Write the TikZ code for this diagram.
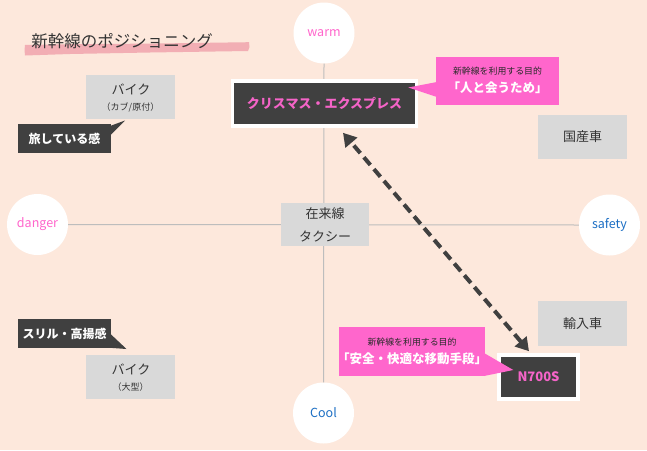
\documentclass[tikz,border=0pt]{standalone}
\usepackage{fontspec}
\setmainfont{Noto Sans CJK JP}
\usetikzlibrary{arrows.meta,calc}
\definecolor{bg}{HTML}{FDE8DC}
\definecolor{gbox}{HTML}{D9D9D9}
\definecolor{darkc}{HTML}{404040}
\definecolor{pinkc}{HTML}{FF66CC}
\definecolor{pinktxt}{HTML}{F564C8}
\definecolor{bluetxt}{HTML}{1C6FC4}
\definecolor{brush}{HTML}{F2AEB4}
\definecolor{axisc}{HTML}{BDBDBD}
\definecolor{txt}{HTML}{333333}
\definecolor{cotxt}{HTML}{2A2A2A}
\begin{document}
\begin{tikzpicture}[x=1pt,y=-1pt,
  graybox/.style={fill=gbox, inner sep=0pt, minimum width=89pt, minimum height=44pt, align=center, text=txt},
  bigtxt/.style={font=\fontsize{13}{15}\selectfont},
  smalltxt/.style={font=\fontsize{9}{11}\selectfont},
  darklbl/.style={fill=darkc, text=white, font=\bfseries\fontsize{12}{14}\selectfont, inner sep=0pt, minimum width=93pt, minimum height=29pt},
  hero/.style={fill=darkc, draw=white, line width=3.6pt, text=pinktxt, font=\bfseries\fontsize{13}{15}\selectfont, inner sep=0pt},
  circ/.style={circle, fill=white, minimum size=61pt, inner sep=0pt, font=\fontsize{12.5}{14}\selectfont},
  callout/.style={fill=pinkc, inner sep=0pt},
  cosmall/.style={text=cotxt, inner sep=0pt, font=\fontsize{8.9}{10}\selectfont},
  cobig/.style={text=white, inner sep=0pt, font=\bfseries\fontsize{12.5}{14}\selectfont},
  axisline/.style={draw=axisc, line width=1pt},
  dasharrow/.style={draw=darkc, line width=4pt, dash pattern=on 10pt off 5.5pt, {Triangle[length=13pt,width=15pt]}-{Triangle[length=13pt,width=15pt]}}
]
\fill[bg] (0,0) rectangle (647,450);
\useasboundingbox (0,0) rectangle (647,450);

% title
\fill[brush] (25,45) -- (70,44.2) -- (150,43.6) -- (249,42.2) -- (249.5,47) -- (248,51) -- (150,52.5) -- (70,54) -- (25,55.5) -- (24.5,50) -- cycle;
\node[text=txt, inner sep=0pt, font=\fontsize{16.5}{18}\selectfont] (title) at (122,41.5) {新幹線のポジショニング};

% axis circles
\node[circ, text=pinkc] (warm) at (324,33) {warm};
\node[circ, text=bluetxt] (cool) at (323.5,413) {Cool};
\node[circ, text=pinkc] (danger) at (37.5,224.5) {danger};
\node[circ, text=bluetxt] (safety) at (609.5,225) {safety};

% axes
\draw[axisline] (warm.south) -- (cool.north);
\draw[axisline] (danger.east) -- (safety.west);

% gray boxes
\node[graybox] (bike1) at (130.5,97) {};
\node[bigtxt, text=txt, inner sep=0pt] (bike1a) at (131,89) {バイク};
\node[smalltxt, text=txt, inner sep=0pt] (bike1b) at (130.5,107.5) {（カブ/原付）};

\node[graybox] (kokusan) at (582.5,137) {};
\node[bigtxt, text=txt, inner sep=0pt] (kokusant) at (582.5,137) {国産車};

\node[graybox, minimum width=88pt, minimum height=43pt] (zairai) at (325,224.5) {};
\node[bigtxt, text=txt, inner sep=0pt] (zairaia) at (325,214) {在来線};
\node[bigtxt, text=txt, inner sep=0pt] (zairaib) at (325,236) {タクシー};

\node[graybox, minimum height=45pt] (yunyu) at (582.5,323.5) {};
\node[bigtxt, text=txt, inner sep=0pt] (yunyut) at (582.5,323.5) {輸入車};

\node[graybox] (bike2) at (130.5,377) {};
\node[bigtxt, text=txt, inner sep=0pt] (bike2a) at (131,369) {バイク};
\node[smalltxt, text=txt, inner sep=0pt] (bike2b) at (130.5,387) {（大型）};

% dark labels with tails
\fill[darkc] (110,126) -- (125,120.5) -- (110,135.5) -- cycle;
\node[darklbl] (tabi) at (64.5,138.5) {旅している感};
\fill[darkc] (110,333.5) -- (126.5,349) -- (110,347.8) -- cycle;
\node[darklbl] (thrill) at (64.5,333.5) {スリル・高揚感};

% hero boxes
\node[hero, minimum width=184pt, minimum height=45pt] (xmas) at (324.5,103.5) {クリスマス・エクスプレス};
\node[hero, minimum width=79.5pt, minimum height=44pt] (n700) at (538.5,377) {N700S};

% callouts
\fill[pinkc] (437,82) -- (408.3,87.5) -- (437,97) -- cycle;
\node[callout, minimum width=123pt, minimum height=48pt] (co1) at (497.5,81) {};
\node[cosmall] (co1a) at (497.5,71) {新幹線を利用する目的};
\node[cobig] (co1b) at (497.5,87.5) {「人と会うため」};

\fill[pinkc] (484,353) -- (513.3,370) -- (484,376) -- cycle;
\node[callout, minimum width=146pt, minimum height=49pt] (co2) at (412,351.5) {};
\node[cosmall] (co2a) at (412,342) {新幹線を利用する目的};
\node[cobig] (co2b) at (412,359) {「安全・快適な移動手段」};

% dashed double arrow
\draw[dasharrow] ($(n700.north)+(-9.5,-2)$) -- ($(xmas.south)+(18.5,5)$);
\end{tikzpicture}
\end{document}
